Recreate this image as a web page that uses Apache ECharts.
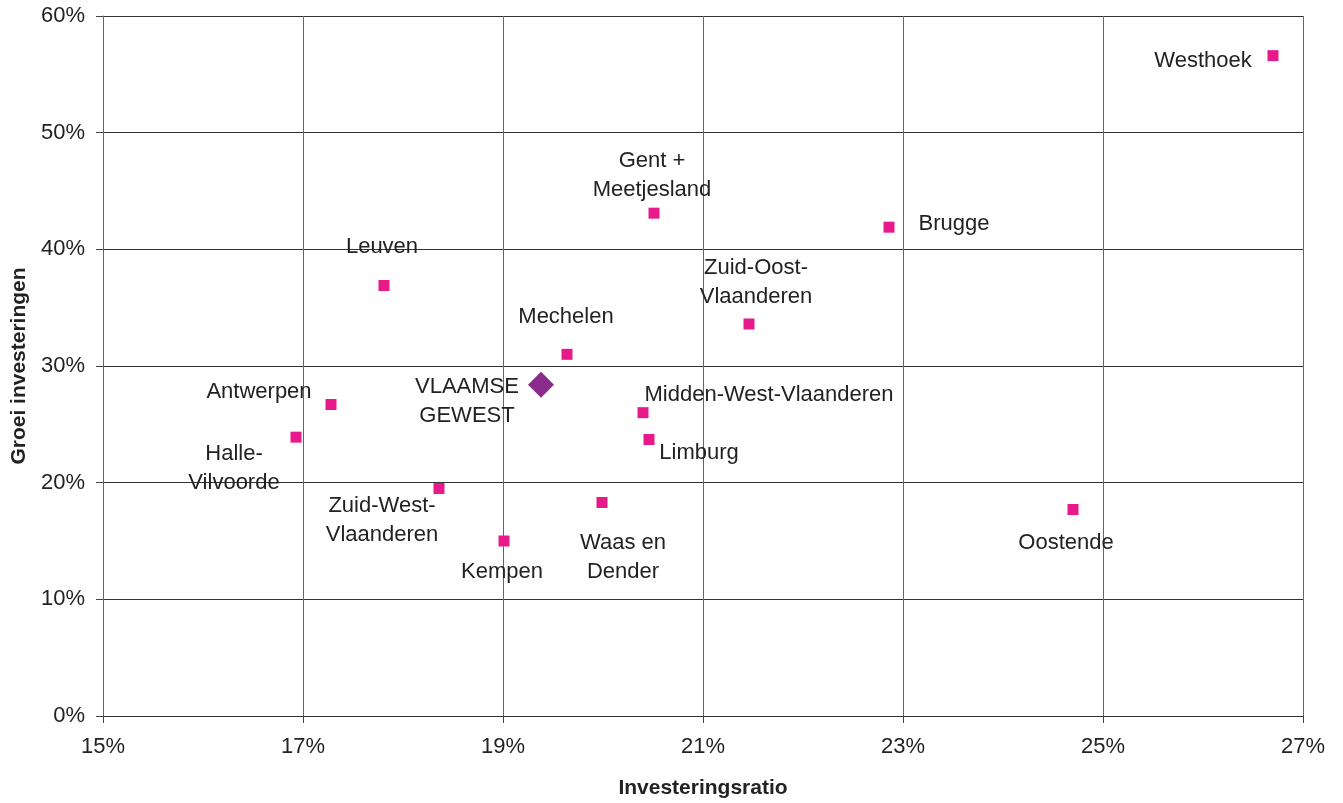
<!DOCTYPE html>
<html>
<head>
<meta charset="utf-8">
<script src="https://cdn.jsdelivr.net/npm/echarts@6/dist/echarts.min.js"></script>
<style>
  html, body { margin: 0; padding: 0; background: #fff; }
  #chart { width: 1343px; height: 803px; }
</style>
</head>
<body>
<div id="chart"></div>
<script>
// regions, investment ratio (%) and growth of investments (%)
const regions = ['Westhoek', 'Gent +\nMeetjesland', 'Brugge', 'Leuven', 'Zuid-Oost-\nVlaanderen', 'Mechelen',
  'Antwerpen', 'Midden-West-Vlaanderen', 'Halle-\nVilvoorde', 'Limburg', 'Zuid-West-\nVlaanderen',
  'Waas en\nDender', 'Oostende', 'Kempen'];
const ratio = [26.70, 20.51, 22.86, 17.81, 21.46, 19.64, 17.28, 20.40, 16.93, 20.46, 18.36, 19.99, 24.70, 19.01];
const growth = [56.6, 43.1, 41.9, 36.9, 33.6, 31.0, 26.7, 26.0, 23.9, 23.7, 19.5, 18.3, 17.7, 15.0];

const totalName = 'VLAAMSE\nGEWEST';
const totalRatio = 19.38;
const totalGrowth = 28.4;

// label offsets (px) from each point
const labelOffsets = [[-70, 5], [-2, -38], [65, -3], [-2, -39], [7, -42], [-1, -37],
  [-72, -13], [126, -18], [-62, 31], [50, 13], [-57, 32], [21, 55], [-7, 33], [-2, 31]];

const chart = echarts.init(document.getElementById('chart'));

const font = 'Liberation Sans, Arial, sans-serif';

chart.setOption({
  animation: false,
  grid: { left: 103, right: 40, top: 16, bottom: 87, outerBoundsMode: 'none', containLabel: false },
  xAxis: {
    type: 'value',
    min: 15, max: 27, interval: 2,
    name: 'Investeringsratio',
    nameLocation: 'middle',
    nameGap: 62,
    nameTextStyle: { fontFamily: font, fontSize: 21, fontWeight: 'bold', color: '#222' },
    axisLine: { show: true, lineStyle: { color: '#333', width: 1 } },
    axisTick: { show: true, length: 7, lineStyle: { color: '#444' } },
    axisLabel: { fontFamily: font, fontSize: 22, color: '#222', margin: 20, formatter: '{value}%' },
    splitLine: { show: true, lineStyle: { color: '#666', width: 1 } }
  },
  yAxis: {
    type: 'value',
    min: 0, max: 60, interval: 10,
    name: 'Groei investeringen',
    nameLocation: 'middle',
    nameGap: 72,
    nameTextStyle: { fontFamily: font, fontSize: 21, fontWeight: 'bold', color: '#222' },
    axisLine: { show: true, lineStyle: { color: '#666', width: 1 } },
    axisTick: { show: true, length: 7, lineStyle: { color: '#444' } },
    axisLabel: { fontFamily: font, fontSize: 22, color: '#222', margin: 18, formatter: '{value}%' },
    splitLine: { show: true, lineStyle: { color: '#333', width: 1 } }
  },
  series: [
    {
      type: 'scatter',
      symbol: 'rect',
      symbolSize: 11,
      itemStyle: { color: '#e8198b', opacity: 1 },
      data: regions.map((name, i) => ({
        name,
        value: [ratio[i], growth[i]],
        label: {
          show: true,
          formatter: name,
          position: 'inside',
          offset: labelOffsets[i],
          align: 'center',
          verticalAlign: 'middle',
          fontFamily: font,
          fontSize: 22,
          lineHeight: 29,
          color: '#222'
        }
      }))
    },
    {
      type: 'scatter',
      symbol: 'diamond',
      symbolSize: [26, 26],
      itemStyle: { color: '#8b2c8c', opacity: 1 },
      data: [{
        name: totalName,
        value: [totalRatio, totalGrowth],
        label: {
          show: true,
          formatter: totalName,
          position: 'inside',
          offset: [-74, 17],
          align: 'center',
          verticalAlign: 'middle',
          fontFamily: font,
          fontSize: 22,
          lineHeight: 29,
          color: '#222'
        }
      }]
    }
  ]
});
</script>
</body>
</html>
